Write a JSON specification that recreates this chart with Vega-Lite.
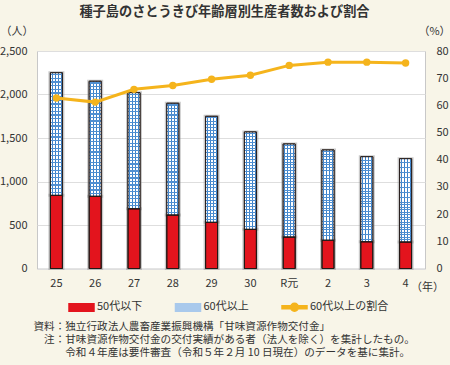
{
  "$schema": "https://vega.github.io/schema/vega-lite/v6.json",
  "autosize": {"type": "none"},
  "width": 388,
  "height": 217.5,
  "padding": {"left": 37, "top": 51, "right": 25, "bottom": 96.5},
  "background": "#f8f5e8",
  "config": {
    "font": "Noto Sans CJK JP",
    "view": {"fill": "#ffffff", "stroke": "#c8c8c8", "strokeWidth": 1},
    "axis": {"labelFontSize": 11, "labelColor": "#333333", "titleColor": "#333333", "titleFontSize": 11, "titleFontWeight": "normal", "ticks": false, "domain": false},
    "legend": {
      "orient": "none", "legendX": 31, "legendY": 242.5, "direction": "horizontal",
      "padding": 0, "symbolSize": 625, "symbolType": "M-1,-0.3H1V0.3H-1Z",
      "labelFontSize": 11, "labelColor": "#333333", "labelOffset": 2, "columnPadding": 29.5
    }
  },
  "title": {
    "text": "種子島のさとうきび年齢層別生産者数および割合",
    "anchor": "middle",
    "frame": "group",
    "dx": -6.5,
    "offset": 6,
    "fontSize": 13.2,
    "fontWeight": "bold",
    "color": "#333333"
  },
  "datasets": {
    "bars": [
      {"year": "25", "group": "50代以下", "value": 841},
      {"year": "25", "group": "60代以上", "value": 1409},
      {"year": "26", "group": "50代以下", "value": 830},
      {"year": "26", "group": "60代以上", "value": 1322},
      {"year": "27", "group": "50代以下", "value": 687},
      {"year": "27", "group": "60代以上", "value": 1334},
      {"year": "28", "group": "50代以下", "value": 615},
      {"year": "28", "group": "60代以上", "value": 1284},
      {"year": "29", "group": "50代以下", "value": 531},
      {"year": "29", "group": "60代以上", "value": 1218},
      {"year": "30", "group": "50代以下", "value": 450},
      {"year": "30", "group": "60代以上", "value": 1119},
      {"year": "R元", "group": "50代以下", "value": 362},
      {"year": "R元", "group": "60代以上", "value": 1069},
      {"year": "2", "group": "50代以下", "value": 325},
      {"year": "2", "group": "60代以上", "value": 1037},
      {"year": "3", "group": "50代以下", "value": 308},
      {"year": "3", "group": "60代以上", "value": 977},
      {"year": "4", "group": "50代以下", "value": 305},
      {"year": "4", "group": "60代以上", "value": 957}
    ],
    "ratio": [
      {"year": "25", "ratio": 62.7},
      {"year": "26", "ratio": 61.2},
      {"year": "27", "ratio": 65.9},
      {"year": "28", "ratio": 67.3},
      {"year": "29", "ratio": 69.6},
      {"year": "30", "ratio": 71.1},
      {"year": "R元", "ratio": 74.7},
      {"year": "2", "ratio": 75.9},
      {"year": "3", "ratio": 75.9},
      {"year": "4", "ratio": 75.6}
    ]
  },
  "layer": [
    {
      "data": {"name": "bars"},
      "transform": [
        {"stack": "value", "groupby": ["year"], "sort": [{"field": "group", "order": "ascending"}], "as": ["v0", "v1"]}
      ],
      "encoding": {
        "x": {
          "field": "year", "type": "nominal",
          "scale": {"domain": ["25", "26", "27", "28", "29", "30", "R元", "2", "3", "4"], "paddingInner": 0, "paddingOuter": 0},
          "axis": {"orient": "bottom", "labelAngle": 0, "labelPadding": 9, "title": "（年）", "titleX": 390, "titleY": 18.8, "titleBaseline": "middle", "titleAlign": "center", "grid": false}
        },
        "y": {
          "field": "v0", "type": "quantitative",
          "scale": {"domain": [0, 2500], "nice": false},
          "axis": {"orient": "left", "values": [0, 500, 1000, 1500, 2000, 2500], "format": ",.0f", "labelPadding": 10, "grid": true, "gridColor": "#dedede", "gridWidth": 1.2, "title": "（人）", "titleAngle": 0, "titleX": -20.5, "titleY": -20, "titleAlign": "center", "titleBaseline": "middle"}
        },
        "y2": {"field": "v1"}
      },
      "layer": [
        {"mark": {"type": "bar", "size": 13, "fillOpacity": 0, "stroke": "#8a8a8a", "strokeWidth": 3, "strokeOpacity": 0.45}},
        {
          "mark": {"type": "bar", "size": 12, "stroke": "#231815", "strokeWidth": 1, "opacity": 1},
          "encoding": {
            "color": {
              "field": "group", "type": "nominal",
              "scale": {"domain": ["50代以下", "60代以上", "60代以上の割合"], "range": ["#e3141d", "#a9c9ec", "#f5b41c"]},
              "legend": {
                "title": null,
                "symbolStrokeColor": {"expr": "datum.value === '60代以上の割合' ? 'transparent' : '#231815'"},
                "symbolStrokeWidth": 1.5,
                "encode": {
                  "symbols": {
                    "update": {
                      "shape": {"signal": "datum.value === '60代以上の割合' ? 'M-1,-0.12H-0.28V0.12H-1Z M0.28,-0.12H1V0.12H0.28Z M0.32,0A0.32,0.32 0 1 1 -0.32,0A0.32,0.32 0 1 1 0.32,0Z' : 'M-1,-0.3H1V0.3H-1Z'"},
                      "stroke": {"signal": "datum.value === '60代以上の割合' ? 'transparent' : '#231815'"},
                      "strokeWidth": {"value": 1.5},
                      "opacity": {"value": 1},
                      "fillOpacity": {"value": 1}
                    }
                  }
                }
              }
            }
          }
        },
        {
          "transform": [{"filter": "datum.group === '60代以上'"}],
          "mark": {"type": "bar", "size": 12, "fill": "#ffffff"}
        },
        {
          "transform": [{"filter": "datum.group === '60代以上'"}],
          "mark": {
            "type": "bar", "size": 12,
            "fill": {
              "gradient": "linear", "x1": 0, "y1": 0, "x2": 1, "y2": 0,
              "stops": [
                {"offset": 0, "color": "rgba(61,130,200,0)"},
                {"offset": 0.1, "color": "rgba(61,130,200,0)"},
                {"offset": 0.1, "color": "#3d82c8"},
                {"offset": 0.18, "color": "#3d82c8"},
                {"offset": 0.18, "color": "rgba(61,130,200,0)"},
                {"offset": 0.35, "color": "rgba(61,130,200,0)"},
                {"offset": 0.35, "color": "#3d82c8"},
                {"offset": 0.43, "color": "#3d82c8"},
                {"offset": 0.43, "color": "rgba(61,130,200,0)"},
                {"offset": 0.6, "color": "rgba(61,130,200,0)"},
                {"offset": 0.6, "color": "#3d82c8"},
                {"offset": 0.68, "color": "#3d82c8"},
                {"offset": 0.68, "color": "rgba(61,130,200,0)"},
                {"offset": 0.85, "color": "rgba(61,130,200,0)"},
                {"offset": 0.85, "color": "#3d82c8"},
                {"offset": 0.93, "color": "#3d82c8"},
                {"offset": 0.93, "color": "rgba(61,130,200,0)"},
                {"offset": 1, "color": "rgba(61,130,200,0)"}
              ]
            }
          }
        },
        {
          "transform": [{"filter": "datum.group === '60代以上'"}],
          "mark": {
            "type": "bar", "size": 12,
            "fill": {
              "gradient": "linear", "x1": 0, "y1": 0, "x2": 0, "y2": 1,
              "stops": [
                {"offset": 0, "color": "rgba(80,144,210,0)"},
                {"offset": 0.01, "color": "rgba(80,144,210,0)"}, {"offset": 0.01, "color": "#5090d2"}, {"offset": 0.02, "color": "#5090d2"}, {"offset": 0.02, "color": "rgba(80,144,210,0)"},
                {"offset": 0.04, "color": "rgba(80,144,210,0)"}, {"offset": 0.04, "color": "#5090d2"}, {"offset": 0.05, "color": "#5090d2"}, {"offset": 0.05, "color": "rgba(80,144,210,0)"},
                {"offset": 0.07, "color": "rgba(80,144,210,0)"}, {"offset": 0.07, "color": "#5090d2"}, {"offset": 0.08, "color": "#5090d2"}, {"offset": 0.08, "color": "rgba(80,144,210,0)"},
                {"offset": 0.10, "color": "rgba(80,144,210,0)"}, {"offset": 0.10, "color": "#5090d2"}, {"offset": 0.11, "color": "#5090d2"}, {"offset": 0.11, "color": "rgba(80,144,210,0)"},
                {"offset": 0.13, "color": "rgba(80,144,210,0)"}, {"offset": 0.13, "color": "#5090d2"}, {"offset": 0.14, "color": "#5090d2"}, {"offset": 0.14, "color": "rgba(80,144,210,0)"},
                {"offset": 0.16, "color": "rgba(80,144,210,0)"}, {"offset": 0.16, "color": "#5090d2"}, {"offset": 0.17, "color": "#5090d2"}, {"offset": 0.17, "color": "rgba(80,144,210,0)"},
                {"offset": 0.19, "color": "rgba(80,144,210,0)"}, {"offset": 0.19, "color": "#5090d2"}, {"offset": 0.20, "color": "#5090d2"}, {"offset": 0.20, "color": "rgba(80,144,210,0)"},
                {"offset": 0.22, "color": "rgba(80,144,210,0)"}, {"offset": 0.22, "color": "#5090d2"}, {"offset": 0.23, "color": "#5090d2"}, {"offset": 0.23, "color": "rgba(80,144,210,0)"},
                {"offset": 0.25, "color": "rgba(80,144,210,0)"}, {"offset": 0.25, "color": "#5090d2"}, {"offset": 0.26, "color": "#5090d2"}, {"offset": 0.26, "color": "rgba(80,144,210,0)"},
                {"offset": 0.28, "color": "rgba(80,144,210,0)"}, {"offset": 0.28, "color": "#5090d2"}, {"offset": 0.29, "color": "#5090d2"}, {"offset": 0.29, "color": "rgba(80,144,210,0)"},
                {"offset": 0.31, "color": "rgba(80,144,210,0)"}, {"offset": 0.31, "color": "#5090d2"}, {"offset": 0.32, "color": "#5090d2"}, {"offset": 0.32, "color": "rgba(80,144,210,0)"},
                {"offset": 0.34, "color": "rgba(80,144,210,0)"}, {"offset": 0.34, "color": "#5090d2"}, {"offset": 0.35, "color": "#5090d2"}, {"offset": 0.35, "color": "rgba(80,144,210,0)"},
                {"offset": 0.37, "color": "rgba(80,144,210,0)"}, {"offset": 0.37, "color": "#5090d2"}, {"offset": 0.38, "color": "#5090d2"}, {"offset": 0.38, "color": "rgba(80,144,210,0)"},
                {"offset": 0.40, "color": "rgba(80,144,210,0)"}, {"offset": 0.40, "color": "#5090d2"}, {"offset": 0.41, "color": "#5090d2"}, {"offset": 0.41, "color": "rgba(80,144,210,0)"},
                {"offset": 0.43, "color": "rgba(80,144,210,0)"}, {"offset": 0.43, "color": "#5090d2"}, {"offset": 0.44, "color": "#5090d2"}, {"offset": 0.44, "color": "rgba(80,144,210,0)"},
                {"offset": 0.46, "color": "rgba(80,144,210,0)"}, {"offset": 0.46, "color": "#5090d2"}, {"offset": 0.47, "color": "#5090d2"}, {"offset": 0.47, "color": "rgba(80,144,210,0)"},
                {"offset": 0.49, "color": "rgba(80,144,210,0)"}, {"offset": 0.49, "color": "#5090d2"}, {"offset": 0.50, "color": "#5090d2"}, {"offset": 0.50, "color": "rgba(80,144,210,0)"},
                {"offset": 0.52, "color": "rgba(80,144,210,0)"}, {"offset": 0.52, "color": "#5090d2"}, {"offset": 0.53, "color": "#5090d2"}, {"offset": 0.53, "color": "rgba(80,144,210,0)"},
                {"offset": 0.55, "color": "rgba(80,144,210,0)"}, {"offset": 0.55, "color": "#5090d2"}, {"offset": 0.56, "color": "#5090d2"}, {"offset": 0.56, "color": "rgba(80,144,210,0)"},
                {"offset": 0.58, "color": "rgba(80,144,210,0)"}, {"offset": 0.58, "color": "#5090d2"}, {"offset": 0.59, "color": "#5090d2"}, {"offset": 0.59, "color": "rgba(80,144,210,0)"},
                {"offset": 0.61, "color": "rgba(80,144,210,0)"}, {"offset": 0.61, "color": "#5090d2"}, {"offset": 0.62, "color": "#5090d2"}, {"offset": 0.62, "color": "rgba(80,144,210,0)"},
                {"offset": 0.64, "color": "rgba(80,144,210,0)"}, {"offset": 0.64, "color": "#5090d2"}, {"offset": 0.65, "color": "#5090d2"}, {"offset": 0.65, "color": "rgba(80,144,210,0)"},
                {"offset": 0.67, "color": "rgba(80,144,210,0)"}, {"offset": 0.67, "color": "#5090d2"}, {"offset": 0.68, "color": "#5090d2"}, {"offset": 0.68, "color": "rgba(80,144,210,0)"},
                {"offset": 0.70, "color": "rgba(80,144,210,0)"}, {"offset": 0.70, "color": "#5090d2"}, {"offset": 0.71, "color": "#5090d2"}, {"offset": 0.71, "color": "rgba(80,144,210,0)"},
                {"offset": 0.73, "color": "rgba(80,144,210,0)"}, {"offset": 0.73, "color": "#5090d2"}, {"offset": 0.74, "color": "#5090d2"}, {"offset": 0.74, "color": "rgba(80,144,210,0)"},
                {"offset": 0.76, "color": "rgba(80,144,210,0)"}, {"offset": 0.76, "color": "#5090d2"}, {"offset": 0.77, "color": "#5090d2"}, {"offset": 0.77, "color": "rgba(80,144,210,0)"},
                {"offset": 0.79, "color": "rgba(80,144,210,0)"}, {"offset": 0.79, "color": "#5090d2"}, {"offset": 0.80, "color": "#5090d2"}, {"offset": 0.80, "color": "rgba(80,144,210,0)"},
                {"offset": 0.82, "color": "rgba(80,144,210,0)"}, {"offset": 0.82, "color": "#5090d2"}, {"offset": 0.83, "color": "#5090d2"}, {"offset": 0.83, "color": "rgba(80,144,210,0)"},
                {"offset": 0.85, "color": "rgba(80,144,210,0)"}, {"offset": 0.85, "color": "#5090d2"}, {"offset": 0.86, "color": "#5090d2"}, {"offset": 0.86, "color": "rgba(80,144,210,0)"},
                {"offset": 0.88, "color": "rgba(80,144,210,0)"}, {"offset": 0.88, "color": "#5090d2"}, {"offset": 0.89, "color": "#5090d2"}, {"offset": 0.89, "color": "rgba(80,144,210,0)"},
                {"offset": 0.91, "color": "rgba(80,144,210,0)"}, {"offset": 0.91, "color": "#5090d2"}, {"offset": 0.92, "color": "#5090d2"}, {"offset": 0.92, "color": "rgba(80,144,210,0)"},
                {"offset": 0.94, "color": "rgba(80,144,210,0)"}, {"offset": 0.94, "color": "#5090d2"}, {"offset": 0.95, "color": "#5090d2"}, {"offset": 0.95, "color": "rgba(80,144,210,0)"},
                {"offset": 0.97, "color": "rgba(80,144,210,0)"}, {"offset": 0.97, "color": "#5090d2"}, {"offset": 0.98, "color": "#5090d2"}, {"offset": 0.98, "color": "rgba(80,144,210,0)"},
                {"offset": 1, "color": "rgba(80,144,210,0)"}
              ]
            }
          }
        },
        {"mark": {"type": "bar", "size": 12, "fillOpacity": 0, "stroke": "#231815", "strokeWidth": 1}}
      ]
    },
    {
      "data": {"name": "ratio"},
      "mark": {"type": "line", "strokeWidth": 3, "point": {"filled": true, "size": 55, "opacity": 1}},
      "encoding": {
        "x": {
          "field": "year", "type": "nominal",
          "axis": {"orient": "top", "labels": false, "grid": false,
            "title": ["資料：独立行政法人農畜産業振興機構「甘味資源作物交付金」", "​　注：甘味資源作物交付金の交付実績がある者（法人を除く）を集計したもの。", "​　　　令和４年産は要件審査（令和５年２月 10 日現在）のデータを基に集計。"],
            "titleFontSize": 10.6, "titleX": -4, "titleY": 270.5, "titleAlign": "left", "titleAnchor": "start", "titleBaseline": "top", "titleLineHeight": 13, "titleAngle": 0}
        },
        "y": {
          "field": "ratio", "type": "quantitative",
          "scale": {"domain": [0, 80], "nice": false},
          "axis": {"orient": "right", "values": [0, 10, 20, 30, 40, 50, 60, 70, 80], "labelPadding": 11, "grid": false, "title": "（%）", "titleAngle": 0, "titleX": 9, "titleY": -20, "titleAlign": "center", "titleBaseline": "middle"}
        },
        "color": {
          "datum": "60代以上の割合",
          "legend": {
            "title": null,
            "symbolStrokeColor": {"expr": "datum.value === '60代以上の割合' ? 'transparent' : '#231815'"},
            "symbolStrokeWidth": 1.5,
            "encode": {
              "symbols": {
                "update": {
                  "shape": {"signal": "datum.value === '60代以上の割合' ? 'M-1,-0.12H-0.28V0.12H-1Z M0.28,-0.12H1V0.12H0.28Z M0.32,0A0.32,0.32 0 1 1 -0.32,0A0.32,0.32 0 1 1 0.32,0Z' : 'M-1,-0.3H1V0.3H-1Z'"},
                  "stroke": {"signal": "datum.value === '60代以上の割合' ? 'transparent' : '#231815'"},
                  "strokeWidth": {"value": 1.5},
                  "opacity": {"value": 1},
                  "fillOpacity": {"value": 1}
                }
              }
            }
          }
        }
      }
    }
  ],
  "resolve": {"scale": {"y": "independent"}, "axis": {"x": "independent"}}
}
